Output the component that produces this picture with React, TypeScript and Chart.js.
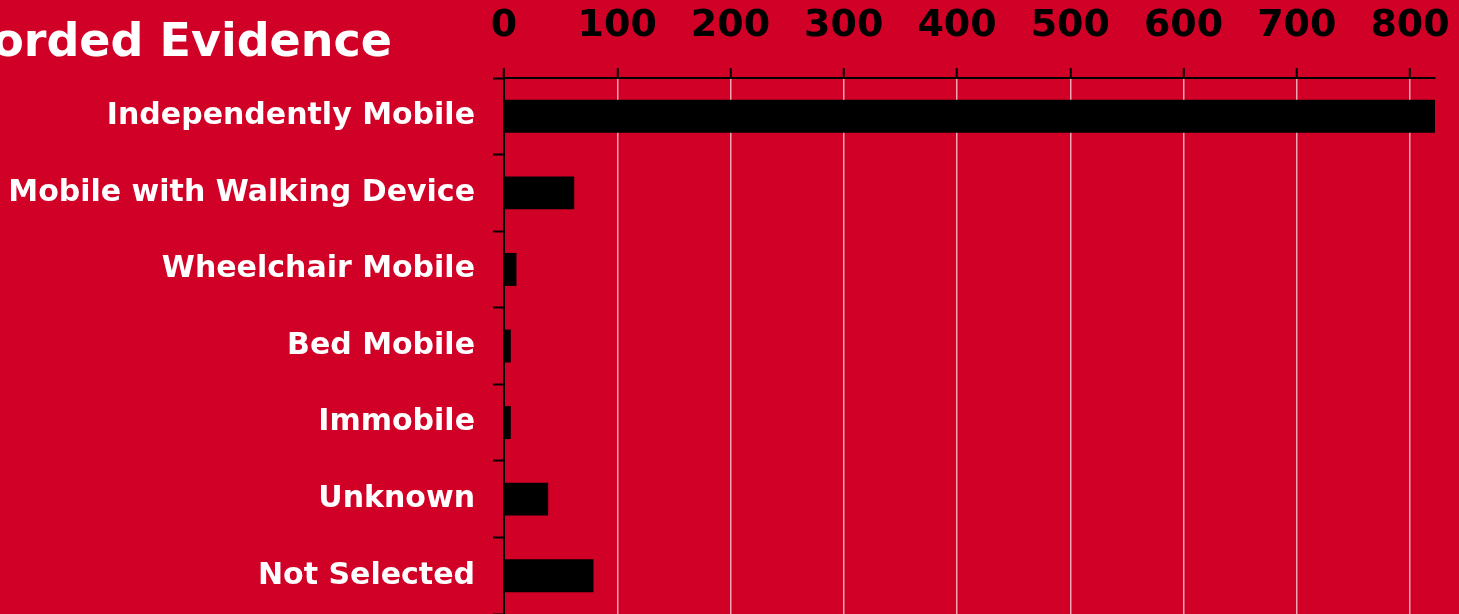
import React, { useEffect, useRef } from "react";
import { Chart, registerables } from "chart.js";

Chart.register(...registerables);

const categories = [
  "Independently Mobile",
  "Mobile with Walking Device",
  "Wheelchair Mobile",
  "Bed Mobile",
  "Immobile",
  "Unknown",
  "Not Selected",
];
const counts = [822, 62, 11, 6, 6, 39, 79];
const xTicks = [0, 100, 200, 300, 400, 500, 600, 700, 800];
const titleText = "Recorded Evidence";

const BG = "#D10027";
const FONT = "'DejaVu Sans', Verdana, sans-serif";

export default function App() {
  const ref = useRef<HTMLCanvasElement | null>(null);

  useEffect(() => {
    if (!ref.current) return;
    const titlePlugin = {
      id: "leftTitle",
      afterDraw(chart: any) {
        const ctx = chart.ctx;
        ctx.save();
        ctx.font = `bold 46px ${FONT}`;
        ctx.fillStyle = "#ffffff";
        ctx.textAlign = "right";
        ctx.textBaseline = "alphabetic";
        ctx.fillText(titleText, 392, 56);
        ctx.restore();
      },
    };
    const bgPlugin = {
      id: "bg",
      beforeDraw(chart: any) {
        const ctx = chart.ctx;
        ctx.save();
        ctx.fillStyle = BG;
        ctx.fillRect(0, 0, chart.width, chart.height);
        ctx.restore();
      },
    };
    const chart = new Chart(ref.current, {
      type: "bar",
      data: {
        labels: categories,
        datasets: [
          {
            data: counts,
            backgroundColor: "#000000",
            borderWidth: 0,
            categoryPercentage: 1,
            barPercentage: 0.43,
          },
        ],
      },
      options: {
        indexAxis: "y",
        animation: false,
        responsive: false,
        maintainAspectRatio: false,
        layout: { padding: { left: 0, right: 24, top: 0, bottom: 0 } },
        plugins: {
          legend: { display: false },
          tooltip: { enabled: false },
          title: { display: false },
        },
        scales: {
          x: {
            position: "top",
            min: 0,
            max: 822,
            afterBuildTicks: (scale: any) => {
              scale.ticks = xTicks.map((v) => ({ value: v }));
            },
            afterFit: (scale: any) => {
              scale.height = 78;
              scale.paddingLeft = 0;
              scale.paddingRight = 0;
            },
            grid: {
              color: "rgba(255,255,255,0.65)",
              lineWidth: 1.5,
              tickColor: "#000000",
              tickLength: 10,
              tickWidth: 2,
              drawOnChartArea: true,
            },
            border: { display: true, color: "#000000", width: 2 },
            ticks: {
              color: "#000000",
              font: { family: FONT, size: 38, weight: "bold" },
              padding: 19,
              maxRotation: 0,
              autoSkip: false,
            },
          },
          y: {
            afterFit: (scale: any) => {
              scale.width = 504;
              scale.paddingTop = 0;
              scale.paddingBottom = 0;
            },
            grid: {
              offset: true,
              drawOnChartArea: false,
              tickColor: "#000000",
              tickLength: 11,
              tickWidth: 2,
            },
            border: { display: true, color: "#000000", width: 2 },
            ticks: {
              color: "#ffffff",
              font: { family: FONT, size: 30, weight: "bold" },
              padding: 18,
              autoSkip: false,
            },
          },
        },
      },
      plugins: [bgPlugin, titlePlugin],
    } as any);
    return () => chart.destroy();
  }, []);

  return (
    <div style={{ position: "fixed", left: 0, top: 0, width: 1459, height: 614 }}>
      <canvas ref={ref} width={1459} height={614} style={{ display: "block", width: 1459, height: 614 }} />
    </div>
  );
}
